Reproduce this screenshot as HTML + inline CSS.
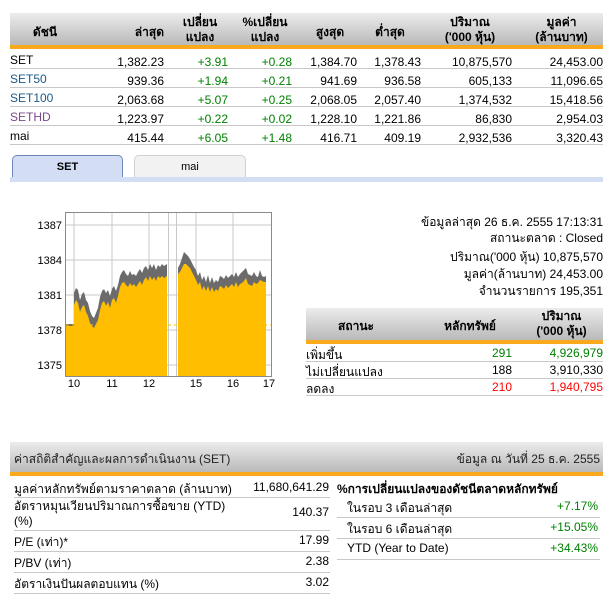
<!DOCTYPE html>
<html><head><meta charset="utf-8"><style>
body{margin:0;width:613px;height:606px;background:#fff;font-family:Tahoma,"Liberation Sans","Noto Sans CJK SC",sans-serif;font-size:12px;color:#000;position:relative;overflow:hidden}
.a{position:absolute;white-space:nowrap}
.r{text-align:right}
.c{text-align:center}
.g{color:#008000}
.red{color:#f00}
.hd{background:linear-gradient(#ececec,#b9b9b9);position:absolute}
.or{background:#f9a91b;position:absolute}
.ln{position:absolute;height:1px;background:#c8c8c8}
b{font-weight:bold}
</style></head><body>
<!-- top table -->
<div class="hd" style="left:10px;top:13px;width:593px;height:32px"></div>
<div class="or" style="left:10px;top:45px;width:593px;height:4px"></div>
<div class="a c" style="left:10px;top:23px;width:70px;font-weight:bold">ดัชนี</div>
<div class="a r" style="left:90px;top:23px;width:74px;font-weight:bold">ล่าสุด</div>
<div class="a c" style="left:170px;top:15px;width:60px;font-weight:bold;line-height:15px">เปลี่ยน<br>แปลง</div>
<div class="a c" style="left:230px;top:15px;width:70px;font-weight:bold;line-height:15px">%เปลี่ยน<br>แปลง</div>
<div class="a c" style="left:305px;top:23px;width:50px;font-weight:bold">สูงสุด</div>
<div class="a c" style="left:365px;top:23px;width:50px;font-weight:bold">ต่ำสุด</div>
<div class="a c" style="left:430px;top:15px;width:80px;font-weight:bold;line-height:15px">ปริมาณ<br>('000 หุ้น)</div>
<div class="a c" style="left:520px;top:15px;width:83px;font-weight:bold;line-height:15px">มูลค่า<br>(ล้านบาท)</div>
<div id="rows"></div>
<!-- tabs -->
<div class="a c" style="left:12px;top:155px;width:109px;height:22px;line-height:22px;background:#d3def5;border:1px solid #6f86b8;border-bottom:none;border-radius:5px 5px 0 0;font-weight:bold;font-size:11px">SET</div>
<div class="a c" style="left:134px;top:155px;width:110px;height:22px;line-height:22px;background:#f2f2f2;border:1px solid #d0d0d0;border-bottom:none;border-radius:5px 5px 0 0;font-size:11px">mai</div>
<div class="a" style="left:10px;top:177px;width:593px;height:5px;background:#d3def5"></div>
<!-- chart -->
<svg class="a" style="left:0;top:190px" width="300" height="210" viewBox="0 190 300 210">
<g stroke="#c8c8c8" stroke-width="1">
<line x1="66" y1="225" x2="271" y2="225"/><line x1="66" y1="260" x2="271" y2="260"/><line x1="66" y1="295" x2="271" y2="295"/><line x1="66" y1="330" x2="271" y2="330"/><line x1="66" y1="365" x2="271" y2="365"/>
<line x1="74" y1="213" x2="74" y2="376"/><line x1="112" y1="213" x2="112" y2="376"/><line x1="149" y1="213" x2="149" y2="376"/><line x1="168.5" y1="213" x2="168.5" y2="376"/><line x1="176.5" y1="213" x2="176.5" y2="376"/><line x1="196" y1="213" x2="196" y2="376"/><line x1="233" y1="213" x2="233" y2="376"/>
</g>
<polygon fill="#6b6b6b" points="66,324 74,324 74,293 76,288 78,290 80,300 82,294 84,292 86,300 88,303 90,311 92,316 94,318 96,313 98,308 100,297 102,291 104,289 106,293 108,290 110,296 112,289 114,286 116,291 118,285 120,276 122,272 124,270 126,274 128,276 130,271 132,275 134,274 136,276 138,272 140,269 142,273 144,268 146,266 148,270 150,264 152,268 154,264 156,270 158,265 160,267 162,264 164,266 167,264 167,376 66,376"/>
<polygon fill="#6b6b6b" points="178,268 180,264 182,258 184,252 186,254 188,256 190,259 192,263 194,267 196,270 198,276 200,272 202,280 204,276 206,282 208,275 210,283 212,277 214,283 216,280 218,282 220,276 222,277 224,279 226,275 228,278 230,276 232,274 234,277 236,272 238,277 240,274 242,272 244,270 246,268 248,274 250,275 252,276 254,272 256,276 258,277 260,270 262,276 264,277 266,276 266,376 178,376"/>
<polygon fill="#ffbf00" points="66,326 74,326 74,305 76,300 78,303 80,312 82,307 84,305 86,312 88,316 90,323 92,326 94,328 96,324 98,320 100,310 102,303 104,301 106,306 108,302 110,308 112,300 114,298 116,303 118,296 120,287 122,283 124,282 126,285 128,287 130,283 132,286 134,284 136,287 138,284 140,281 142,285 144,280 146,277 148,281 150,276 152,280 154,277 156,281 158,276 160,278 162,276 164,278 167,276 167,376 66,376"/>
<polygon fill="#ffbf00" points="178,274 180,272 182,268 184,264 186,264 188,266 190,268 192,272 194,276 196,280 198,285 200,282 202,290 204,286 206,291 208,286 210,292 212,287 214,292 216,289 218,291 220,286 222,287 224,289 226,285 228,288 230,286 232,284 234,287 236,282 238,287 240,284 242,283 244,281 246,278 248,284 250,285 252,286 254,282 256,284 258,283 260,280 262,281 264,282 266,282 266,376 178,376"/>
<line x1="66" y1="325" x2="271" y2="325" stroke="#ffbf00" stroke-dasharray="3,3"/>
<rect x="65.5" y="212.5" width="206" height="164" fill="none" stroke="#8a8a8a"/>
<g font-family="Liberation Sans,sans-serif" font-size="11" fill="#000">
<text x="62" y="229" text-anchor="end">1387</text><text x="62" y="264" text-anchor="end">1384</text><text x="62" y="299" text-anchor="end">1381</text><text x="62" y="334" text-anchor="end">1378</text><text x="62" y="369" text-anchor="end">1375</text>
<text x="74" y="387" text-anchor="middle">10</text><text x="112" y="387" text-anchor="middle">11</text><text x="149" y="387" text-anchor="middle">12</text><text x="196" y="387" text-anchor="middle">15</text><text x="233" y="387" text-anchor="middle">16</text><text x="269" y="387" text-anchor="middle">17</text>
</g>
</svg>
<!-- right info -->
<div class="a r" style="left:350px;top:214px;width:253px;line-height:16px">ข้อมูลล่าสุด 26 ธ.ค. 2555 17:13:31<br>สถานะตลาด : Closed</div>
<div class="a r" style="left:350px;top:249px;width:253px;line-height:17px">ปริมาณ('000 หุ้น) 10,875,570<br>มูลค่า(ล้านบาท) 24,453.00<br>จำนวนรายการ 195,351</div>
<div class="hd" style="left:306px;top:308px;width:297px;height:32px"></div>
<div class="or" style="left:306px;top:340px;width:297px;height:4px"></div>
<div class="a c" style="left:306px;top:317px;width:100px;font-weight:bold">สถานะ</div>
<div class="a c" style="left:430px;top:317px;width:80px;font-weight:bold">หลักทรัพย์</div>
<div class="a c" style="left:520px;top:309px;width:83px;font-weight:bold;line-height:15px">ปริมาณ<br>('000 หุ้น)</div>
<div class="a" style="left:306px;top:346px">เพิ่มขึ้น</div><div class="a r g" style="left:440px;top:346px;width:72px">291</div><div class="a r g" style="left:520px;top:346px;width:83px">4,926,979</div>
<div class="ln" style="left:306px;top:361px;width:297px"></div>
<div class="a" style="left:306px;top:363px">ไม่เปลี่ยนแปลง</div><div class="a r" style="left:440px;top:363px;width:72px">188</div><div class="a r" style="left:520px;top:363px;width:83px">3,910,330</div>
<div class="ln" style="left:306px;top:378px;width:297px"></div>
<div class="a" style="left:306px;top:380px">ลดลง</div><div class="a r red" style="left:440px;top:380px;width:72px">210</div><div class="a r red" style="left:520px;top:380px;width:83px">1,940,795</div>
<div class="ln" style="left:306px;top:395px;width:297px"></div>
<!-- bottom -->
<div class="hd" style="left:10px;top:442px;width:593px;height:30px"></div>
<div class="or" style="left:10px;top:472px;width:593px;height:4px"></div>
<div class="a" style="left:14px;top:450px;color:#222">ค่าสถิติสำคัญและผลการดำเนินงาน (SET)</div>
<div class="a r" style="left:400px;top:450px;width:200px;color:#222">ข้อมูล ณ วันที่ 25 ธ.ค. 2555</div>
<div class="a" style="left:14px;top:480px">มูลค่าหลักทรัพย์ตามราคาตลาด (ล้านบาท)</div><div class="a r" style="left:230px;top:480px;width:99px">11,680,641.29</div>
<div class="ln" style="left:14px;top:497px;width:316px"></div>
<div class="a" style="left:14px;top:499px;line-height:15px">อัตราหมุนเวียนปริมาณการซื้อขาย (YTD)<br>(%)</div><div class="a r" style="left:230px;top:505px;width:99px">140.37</div>
<div class="ln" style="left:14px;top:530px;width:316px"></div>
<div class="a" style="left:14px;top:533px">P/E (เท่า)*</div><div class="a r" style="left:230px;top:533px;width:99px">17.99</div>
<div class="ln" style="left:14px;top:551px;width:316px"></div>
<div class="a" style="left:14px;top:554px">P/BV (เท่า)</div><div class="a r" style="left:230px;top:554px;width:99px">2.38</div>
<div class="ln" style="left:14px;top:572px;width:316px"></div>
<div class="a" style="left:14px;top:575px">อัตราเงินปันผลตอบแทน (%)</div><div class="a r" style="left:230px;top:575px;width:99px">3.02</div>
<div class="ln" style="left:14px;top:593px;width:316px"></div>
<div class="a" style="left:337px;top:480px;font-weight:bold">%การเปลี่ยนแปลงของดัชนีตลาดหลักทรัพย์</div>
<div class="a" style="left:347px;top:499px">ในรอบ 3 เดือนล่าสุด</div><div class="a r g" style="left:500px;top:499px;width:98px">+7.17%</div>
<div class="ln" style="left:337px;top:517px;width:263px"></div>
<div class="a" style="left:347px;top:520px">ในรอบ 6 เดือนล่าสุด</div><div class="a r g" style="left:500px;top:520px;width:98px">+15.05%</div>
<div class="ln" style="left:337px;top:538px;width:263px"></div>
<div class="a" style="left:347px;top:541px">YTD (Year to Date)</div><div class="a r g" style="left:500px;top:541px;width:98px">+34.43%</div>
<div class="ln" style="left:337px;top:559px;width:263px"></div>

<div class="a" style="left:10px;top:53px">SET</div>
<div class="a" style="left:10px;top:72px;color:#1a5a8a">SET50</div>
<div class="a" style="left:10px;top:91px;color:#1a5a8a">SET100</div>
<div class="a" style="left:10px;top:110px;color:#7a4a8a">SETHD</div>
<div class="a" style="left:10px;top:129px">mai</div>
<div class="ln" style="left:10px;top:68px;width:593px"></div>
<div class="ln" style="left:10px;top:87px;width:593px"></div>
<div class="ln" style="left:10px;top:106px;width:593px"></div>
<div class="ln" style="left:10px;top:125px;width:593px"></div>
<div class="ln" style="left:10px;top:144px;width:593px"></div>

<div class="a r" style="left:80px;top:53px;width:84px;line-height:19px">1,382.23<br>939.36<br>2,063.68<br>1,223.97<br>415.44</div>
<div class="a r g" style="left:170px;top:53px;width:58px;line-height:19px">+3.91<br>+1.94<br>+5.07<br>+0.22<br>+6.05</div>
<div class="a r g" style="left:230px;top:53px;width:62px;line-height:19px">+0.28<br>+0.21<br>+0.25<br>+0.02<br>+1.48</div>
<div class="a r" style="left:295px;top:53px;width:62px;line-height:19px">1,384.70<br>941.69<br>2,068.05<br>1,228.10<br>416.71</div>
<div class="a r" style="left:360px;top:53px;width:61px;line-height:19px">1,378.43<br>936.58<br>2,057.40<br>1,221.86<br>409.19</div>
<div class="a r" style="left:425px;top:53px;width:87px;line-height:19px">10,875,570<br>605,133<br>1,374,532<br>86,830<br>2,932,536</div>
<div class="a r" style="left:515px;top:53px;width:88px;line-height:19px">24,453.00<br>11,096.65<br>15,418.56<br>2,954.03<br>3,320.43</div>
</body></html>
